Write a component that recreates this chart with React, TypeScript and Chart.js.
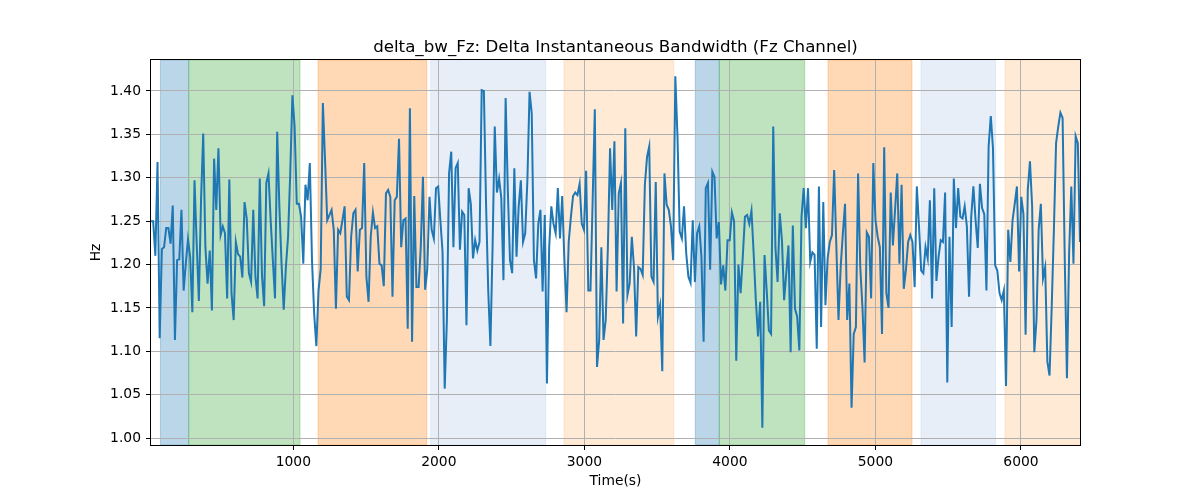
import React, { useEffect, useRef } from "react";
import { Chart, registerables } from "chart.js";

Chart.register(...registerables);

const TITLE = "delta_bw_Fz: Delta Instantaneous Bandwidth (Fz Channel)";
const X_LABEL = "Time(s)";
const Y_LABEL = "Hz";

// sample times: regular sampling from T_START every T_STEP seconds
const T_START = 22;
const T_STEP = 14.95;

const VALUES: number[] = [
  1.250, 1.250, 1.210, 1.318, 1.115, 1.218, 1.220, 1.242, 1.242, 1.224, 1.268, 1.113, 1.205, 1.206, 1.263, 1.170, 1.201, 1.229, 1.209, 1.145, 1.297, 1.224, 1.158, 1.274, 1.351, 1.220, 1.178, 1.216, 1.147, 1.322, 1.263, 1.334, 1.234, 1.244, 1.236, 1.161, 1.298, 1.167, 1.136, 1.226, 1.212,
  1.209, 1.185, 1.272, 1.253, 1.190, 1.180, 1.263, 1.186, 1.161, 1.299, 1.188, 1.152, 1.294, 1.305, 1.251, 1.205, 1.161, 1.353, 1.267, 1.201, 1.148, 1.197, 1.232, 1.305, 1.395, 1.359, 1.270, 1.270, 1.255, 1.201, 1.292, 1.274, 1.317, 1.205, 1.143, 1.106, 1.170, 1.195, 1.386, 1.320, 1.251, 1.257, 1.263,
  1.240, 1.149, 1.240, 1.236, 1.251, 1.267, 1.163, 1.159, 1.232, 1.259, 1.263, 1.192, 1.240, 1.242, 1.317, 1.186, 1.157, 1.232, 1.260, 1.242, 1.244, 1.201, 1.199, 1.175, 1.282, 1.286, 1.278, 1.163, 1.274, 1.278, 1.345, 1.220, 1.251, 1.253, 1.126, 1.380, 1.111, 1.279, 1.174, 1.174, 1.220, 1.301, 1.171,
  1.195, 1.278, 1.240, 1.230, 1.288, 1.290, 1.251, 1.215, 1.057, 1.136, 1.305, 1.330, 1.220, 1.311, 1.317, 1.217, 1.261, 1.257, 1.130, 1.288, 1.270, 1.207, 1.228, 1.216, 1.226, 1.401, 1.400, 1.270, 1.170, 1.106, 1.220, 1.359, 1.283, 1.299, 1.277, 1.182, 1.392, 1.286, 1.205, 1.190, 1.311,
  1.209, 1.267, 1.297, 1.226, 1.236, 1.297, 1.399, 1.374, 1.205, 1.184, 1.247, 1.263, 1.169, 1.257, 1.063, 1.219, 1.267, 1.247, 1.236, 1.288, 1.230, 1.279, 1.205, 1.145, 1.226, 1.255, 1.279, 1.283, 1.280, 1.293, 1.247, 1.240, 1.308, 1.170, 1.170, 1.274, 1.379, 1.082, 1.113, 1.220, 1.113,
  1.136, 1.220, 1.334, 1.263, 1.342, 1.169, 1.282, 1.294, 1.132, 1.357, 1.165, 1.178, 1.232, 1.197, 1.117, 1.197, 1.195, 1.188, 1.292, 1.324, 1.336, 1.186, 1.180, 1.295, 1.140, 1.153, 1.077, 1.305, 1.269, 1.263, 1.244, 1.205, 1.417, 1.347, 1.238, 1.230, 1.267, 1.213, 1.186, 1.179, 1.251, 1.180,
  1.236, 1.244, 1.209, 1.111, 1.288, 1.294, 1.194, 1.307, 1.301, 1.230, 1.249, 1.177, 1.199, 1.170, 1.228, 1.228, 1.260, 1.250, 1.089, 1.200, 1.167, 1.209, 1.255, 1.257, 1.247, 1.262, 1.213, 1.159, 1.117, 1.157, 1.012, 1.211, 1.170, 1.124, 1.120, 1.359, 1.220, 1.180, 1.259, 1.228, 1.159,
  1.190, 1.222, 1.099, 1.245, 1.149, 1.140, 1.101, 1.255, 1.288, 1.242, 1.288, 1.203, 1.214, 1.211, 1.103, 1.290, 1.128, 1.272, 1.153, 1.207, 1.226, 1.234, 1.309, 1.222, 1.136, 1.197, 1.236, 1.270, 1.136, 1.178, 1.035, 1.120, 1.128, 1.305, 1.197, 1.151, 1.087, 1.237, 1.232, 1.161, 1.317,
  1.251, 1.232, 1.220, 1.120, 1.335, 1.167, 1.150, 1.283, 1.222, 1.263, 1.305, 1.201, 1.292, 1.172, 1.194, 1.226, 1.234, 1.226, 1.174, 1.290, 1.244, 1.193, 1.190, 1.220, 1.207, 1.274, 1.161, 1.288, 1.181, 1.209, 1.228, 1.226, 1.283, 1.064, 1.232, 1.128, 1.299, 1.242, 1.288, 1.255, 1.253,
  1.267, 1.244, 1.163, 1.255, 1.290, 1.251, 1.219, 1.293, 1.265, 1.258, 1.170, 1.336, 1.371, 1.334, 1.199, 1.193, 1.167, 1.159, 1.170, 1.060, 1.240, 1.203, 1.251, 1.270, 1.290, 1.192, 1.278, 1.258, 1.119, 1.286, 1.319, 1.267, 1.099, 1.136, 1.240, 1.270, 1.184, 1.197, 1.088, 1.072, 1.151, 1.240,
  1.340, 1.359, 1.375, 1.369, 1.205, 1.069, 1.213, 1.290, 1.201, 1.348, 1.340, 1.226,
];

const TIMES: number[] = VALUES.map((_, i) => T_START + i * T_STEP);

const X_TICKS = [1000, 2000, 3000, 4000, 5000, 6000];
const Y_TICKS = [1.0, 1.05, 1.1, 1.15, 1.2, 1.25, 1.3, 1.35, 1.4];
const Y_MIN = 0.992;
const Y_MAX = 1.4357;

const SPAN_START = [87, 281, 1170, 1944, 2860, 3762, 3927, 4674, 5313, 5890];
const SPAN_END = [281, 1046, 1917, 2734, 3614, 3927, 4514, 5251, 5826, 6500];
const SPAN_COLOR = [
  "rgba(31,119,180,0.3)",
  "rgba(44,160,44,0.3)",
  "rgba(255,127,14,0.3)",
  "rgba(174,199,232,0.3)",
  "rgba(255,187,120,0.3)",
  "rgba(31,119,180,0.3)",
  "rgba(44,160,44,0.3)",
  "rgba(255,127,14,0.3)",
  "rgba(174,199,232,0.3)",
  "rgba(255,187,120,0.3)",
];

const FONT = "'DejaVu Sans', sans-serif";

const decorPlugin = {
  id: "decor",
  beforeDraw(chart: any) {
    const { ctx, chartArea: a, scales } = chart;
    const x = scales.x;
    ctx.save();
    ctx.fillStyle = "#ffffff";
    ctx.fillRect(0, 0, chart.width, chart.height);
    ctx.beginPath();
    ctx.rect(a.left, a.top, a.right - a.left, a.bottom - a.top);
    ctx.clip();
    for (let i = 0; i < SPAN_START.length; i++) {
      const x0 = x.getPixelForValue(SPAN_START[i]);
      const x1 = x.getPixelForValue(SPAN_END[i]);
      ctx.fillStyle = SPAN_COLOR[i];
      ctx.fillRect(x0, a.top, x1 - x0, a.bottom - a.top);
      ctx.strokeStyle = SPAN_COLOR[i];
      ctx.lineWidth = 1;
      ctx.strokeRect(x0, a.top, x1 - x0, a.bottom - a.top);
    }
    ctx.restore();
  },
  afterDatasetsDraw(chart: any) {
    const { ctx, chartArea: a } = chart;
    ctx.save();
    ctx.strokeStyle = "#000";
    ctx.lineWidth = 1;
    const l = Math.round(a.left) - 0.5;
    const r = Math.round(a.right) + 0.5;
    const t = Math.round(a.top) - 0.5;
    const b = Math.round(a.bottom) + 0.5;
    ctx.strokeRect(l, t, r - l, b - t);
    ctx.restore();
  },
  afterDraw(chart: any) {
    const { ctx, chartArea: a } = chart;
    const cx = (a.left + a.right) / 2;
    const cy = (a.top + a.bottom) / 2;
    ctx.save();
    ctx.fillStyle = "#000";
    ctx.textAlign = "center";
    ctx.font = `16.67px ${FONT}`;
    ctx.textBaseline = "alphabetic";
    ctx.fillText(TITLE, cx, a.top - 8.5);
    ctx.font = `13.89px ${FONT}`;
    ctx.textBaseline = "middle";
    ctx.fillText(X_LABEL, cx, 481);
    ctx.translate(96, cy);
    ctx.rotate(-Math.PI / 2);
    ctx.fillText(Y_LABEL, 0, 0);
    ctx.restore();
  },
};

export default function App() {
  const ref = useRef<HTMLCanvasElement | null>(null);

  useEffect(() => {
    if (!ref.current) return;
    const chart = new Chart(ref.current, {
      type: "line",
      data: {
        datasets: [
          {
            data: VALUES.map((v, i) => ({ x: TIMES[i], y: v })),
            borderColor: "#1f77b4",
            borderWidth: 2,
            pointRadius: 0,
            tension: 0,
            fill: false,
          },
        ],
      },
      options: {
        animation: false,
        responsive: false,
        devicePixelRatio: 1,
        layout: { padding: { top: 60, right: 120, bottom: 0, left: 0 } },
        plugins: {
          legend: { display: false },
          title: { display: false },
          tooltip: { enabled: false },
        },
        scales: {
          x: {
            type: "linear",
            min: TIMES[0],
            max: TIMES[TIMES.length - 1],
            afterFit: (s: any) => {
              s.height = 55;
            },
            afterBuildTicks: (s: any) => {
              s.ticks = X_TICKS.map((v) => ({ value: v }));
            },
            grid: {
              color: "#b0b0b0",
              lineWidth: 1,
              tickColor: "#000",
              tickLength: 5,
              drawTicks: true,
            },
            border: { display: false },
            ticks: {
              autoSkip: false,
              maxRotation: 0,
              padding: 4,
              color: "#000",
              font: { family: FONT, size: 13.89 },
              callback: (v: any) => String(v),
            },
          },
          y: {
            type: "linear",
            min: Y_MIN,
            max: Y_MAX,
            afterFit: (s: any) => {
              s.width = 151;
            },
            afterBuildTicks: (s: any) => {
              s.ticks = Y_TICKS.map((v) => ({ value: v }));
            },
            grid: {
              color: "#b0b0b0",
              lineWidth: 1,
              tickColor: "#000",
              tickLength: 5,
              drawTicks: true,
            },
            border: { display: false },
            ticks: {
              autoSkip: false,
              padding: 5,
              color: "#000",
              font: { family: FONT, size: 13.89 },
              callback: (v: any) => Number(v).toFixed(2),
            },
          },
        },
      },
      plugins: [decorPlugin],
    });
    return () => chart.destroy();
  }, []);

  return (
    <div style={{ position: "absolute", left: 0, top: 0, width: 1200, height: 500, background: "#fff" }}>
      <canvas ref={ref} width={1200} height={500} style={{ width: 1200, height: 500, display: "block" }} />
    </div>
  );
}
